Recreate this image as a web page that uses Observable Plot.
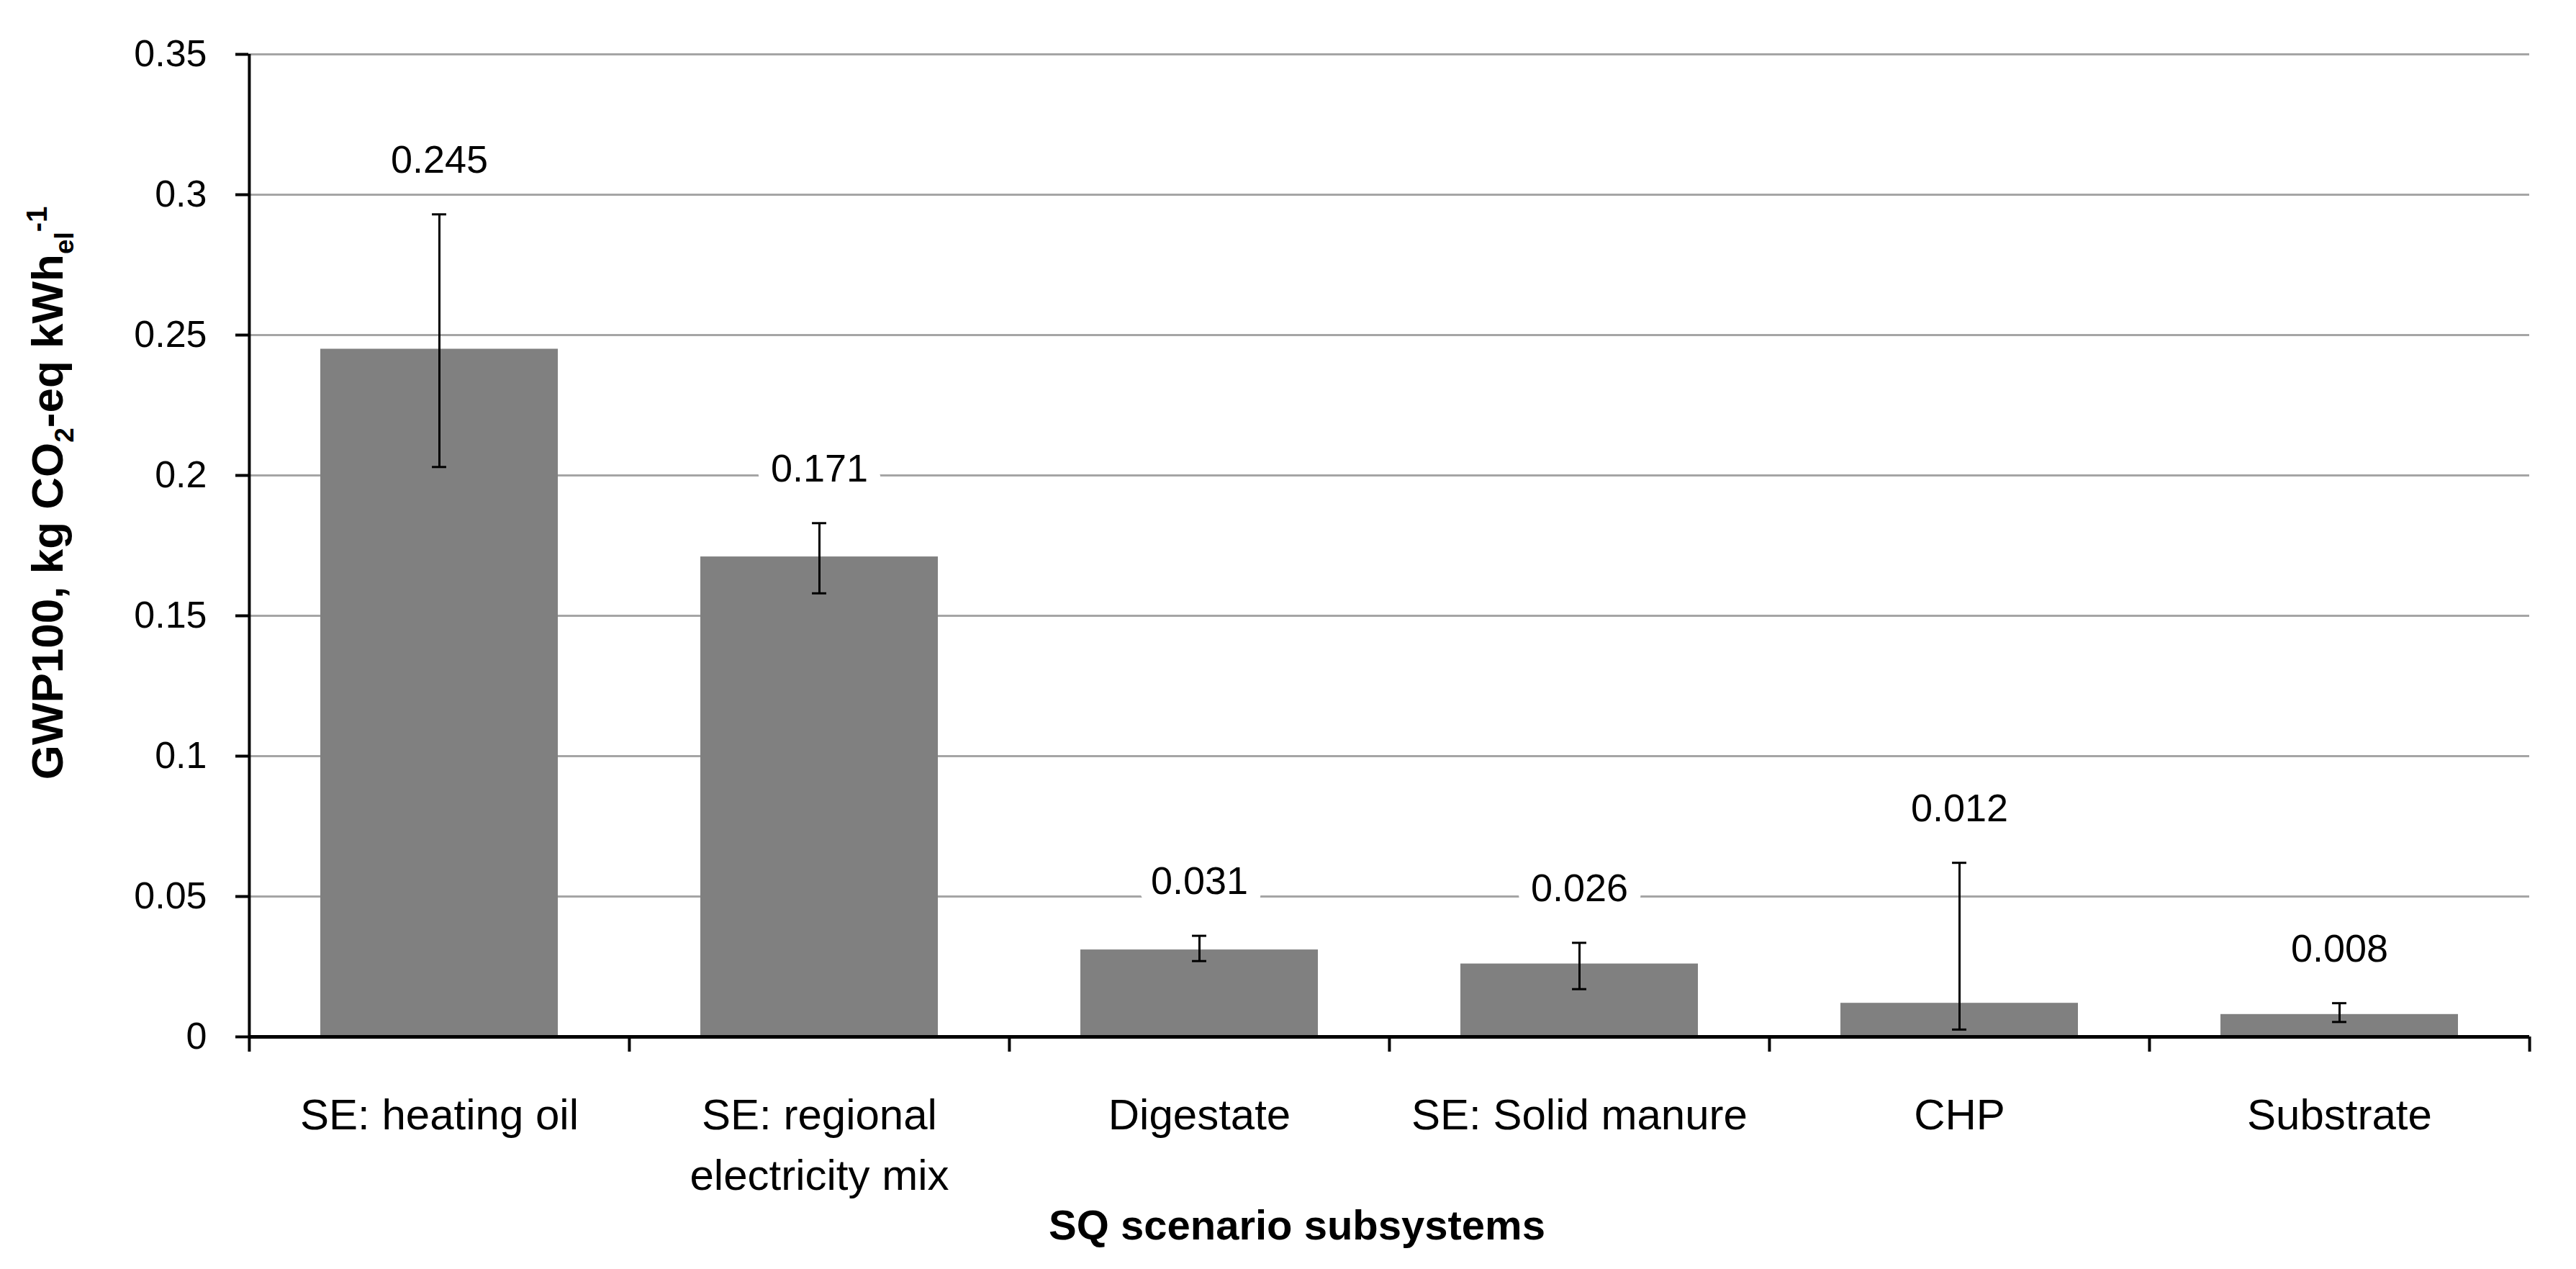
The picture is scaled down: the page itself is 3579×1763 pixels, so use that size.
<!DOCTYPE html>
<html><head><meta charset="utf-8">
<script src="https://cdn.jsdelivr.net/npm/d3@7"></script>
<script src="https://cdn.jsdelivr.net/npm/@observablehq/plot@0.6"></script>
<style>html,body{margin:0;padding:0;background:#fff;overflow:hidden}</style>
</head><body><div id="chart"></div>
<script>
// ---- data ----
const categories = ["SE: heating oil", "SE: regional electricity mix", "Digestate", "SE: Solid manure", "CHP", "Substrate"];
const categoryLabels = ["SE: heating oil", "SE: regional\nelectricity mix", "Digestate", "SE: Solid manure", "CHP", "Substrate"];
const values = [0.245, 0.171, 0.031, 0.026, 0.012, 0.008];
const errLow = [0.203, 0.158, 0.027, 0.017, 0.0026, 0.0053];
const errHigh = [0.293, 0.183, 0.036, 0.0335, 0.062, 0.012];
const yTicks = [0, 0.05, 0.1, 0.15, 0.2, 0.25, 0.3, 0.35];
const yTickLabels = ["0", "0.05", "0.1", "0.15", "0.2", "0.25", "0.3", "0.35"];
const xTitle = "SQ scenario subsystems";

// ---- layout ----
const W = 3579, H = 1763, mL = 345, mR = 65, mT = 75, mB = 323;
const n = categories.length;
const step = (W - mL - mR) / n;
const padInner = 0.375;
const barWidth = step * (1 - padInner);
const capWidth = 20;
const font = "Liberation Sans, Arial, sans-serif";

const data = categories.map((c, i) => ({category: c, value: values[i], lo: errLow[i], hi: errHigh[i]}));

const svg = Plot.plot({
  width: W, height: H,
  marginLeft: mL, marginRight: mR, marginTop: mT, marginBottom: mB,
  style: {fontFamily: font, background: "#fff", color: "#000", overflow: "visible"},
  x: {type: "band", domain: categories, paddingInner: padInner, paddingOuter: padInner / 2, align: 0.5},
  y: {domain: [0, 0.35]},
  marks: [
    Plot.ruleY(yTicks.filter(d => d > 0), {stroke: "#a5a5a5", strokeWidth: 3}),
    Plot.barY(data, {x: "category", y: "value", fill: "#808080"}),
    Plot.text(data, {x: "category", y: "hi", dy: -75, text: d => d3.format(".3f")(d.value),
      fontSize: 54, fill: "#000", stroke: "#fff", strokeWidth: 40, paintOrder: "stroke", lineAnchor: "middle"}),
    Plot.ruleX(data, {x: "category", y1: "lo", y2: "hi", stroke: "#000", strokeWidth: 3}),
    Plot.tickY(data, {x: "category", y: "hi", stroke: "#000", strokeWidth: 3, inset: (barWidth - capWidth) / 2}),
    Plot.tickY(data, {x: "category", y: "lo", stroke: "#000", strokeWidth: 3, inset: (barWidth - capWidth) / 2}),
    Plot.ruleY([0], {stroke: "#000", strokeWidth: 5}),
    Plot.ruleX([categories[0]], {dx: -step / 2, y1: 0, y2: 0.35, stroke: "#000", strokeWidth: 4}),
    Plot.ruleX(categories, {x: d => d, dx: -step / 2, y1: 0, y2: 0, insetBottom: -21, stroke: "#000", strokeWidth: 4}),
    Plot.ruleX([categories[n - 1]], {x: d => d, dx: step / 2, y1: 0, y2: 0, insetBottom: -21, stroke: "#000", strokeWidth: 4}),
    Plot.axisY({ticks: yTicks, tickFormat: d => yTickLabels[yTicks.indexOf(d)], tickSize: 18, tickPadding: 40,
      fontSize: 52, strokeWidth: 4, label: null}),
    Plot.axisX({tickSize: 0, tickPadding: 69, fontSize: 60, lineHeight: 1.4,
      tickFormat: d => categoryLabels[categories.indexOf(d)], label: null})
  ]
});

const g = d3.select(svg);
const yt = g.append("text")
  .attr("transform", "translate(87,685) rotate(-90)")
  .attr("text-anchor", "middle")
  .attr("font-family", font).attr("font-weight", "bold").attr("font-size", 62).attr("fill", "#000");
yt.append("tspan").text("GWP100, kg CO");
yt.append("tspan").attr("font-size", 37).attr("dy", 15).text("2");
yt.append("tspan").attr("dy", -15).text("-eq kWh");
yt.append("tspan").attr("font-size", 37).attr("dy", 15).text("el");
yt.append("tspan").attr("font-size", 40).attr("dy", -37).text("-1");

g.append("text")
  .attr("x", 1802).attr("y", 1722)
  .attr("text-anchor", "middle")
  .attr("font-family", font).attr("font-weight", "bold").attr("font-size", 58).attr("fill", "#000")
  .text(xTitle);

document.getElementById("chart").appendChild(svg);
</script>
</body></html>
